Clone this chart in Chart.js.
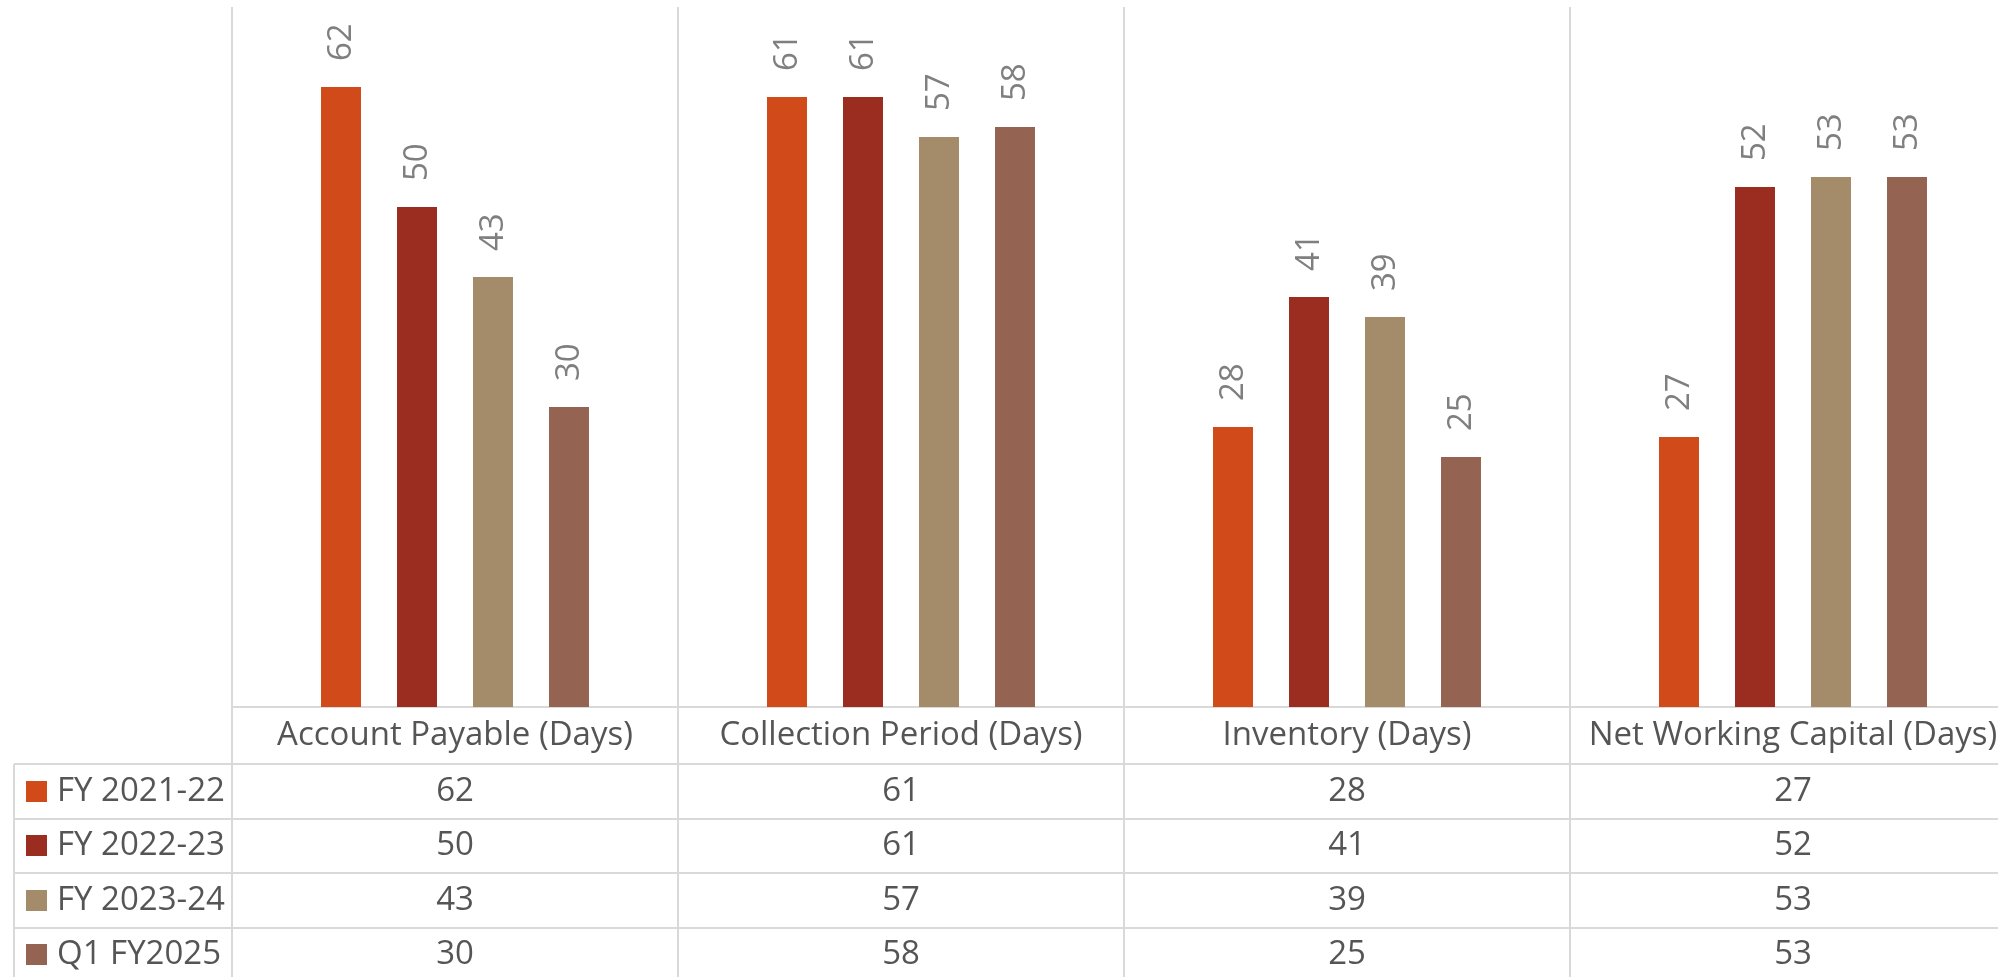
<!DOCTYPE html>
<html>
<head>
<meta charset="utf-8">
<title>Working capital days</title>
<script src="https://cdn.jsdelivr.net/npm/chart.js@4"></script>
<style>
  html, body { margin: 0; padding: 0; background: #fff; overflow: hidden; }
  #wrap { width: 2016px; height: 977px; }
</style>
</head>
<body>
<div id="wrap"><canvas id="myChart" width="2016" height="977"></canvas></div>
<script>
const categories = [
  "Account Payable (Days)",
  "Collection Period (Days)",
  "Inventory (Days)",
  "Net Working Capital (Days)",
];
const seriesNames = ["FY 2021-22", "FY 2022-23", "FY 2023-24", "Q1 FY2025"];
const fy2122 = [62, 61, 28, 27];
const fy2223 = [50, 61, 41, 52];
const fy2324 = [43, 57, 39, 53];
const q1fy25 = [30, 58, 25, 53];
const seriesColors = ["#D14A19", "#9A2C20", "#A48C6A", "#956352"];

const gridColor = "#d9d9d9";
const tableFont = "33px 'Open Sans'";
const tableText = "#555555";
const headerRow = 57;
const rowHeight = 54.5;

// grid lines, data table with legend keys, rotated value labels
const tablePlugin = {
  id: "dataTable",
  beforeDatasetsDraw(chart) {
    const ctx = chart.ctx;
    const area = chart.chartArea;
    const xs = chart.scales.x;
    const colW = (xs.right - xs.left) / categories.length;
    const tableLeft = 14;
    const bottom = chart.height;
    ctx.save();
    ctx.strokeStyle = gridColor;
    ctx.lineWidth = 2;
    ctx.beginPath();
    for (let i = 0; i <= categories.length; i++) {
      const x = Math.round(xs.left + i * colW);
      ctx.moveTo(x, area.top);
      ctx.lineTo(x, bottom);
    }
    ctx.moveTo(xs.left, area.bottom);
    ctx.lineTo(chart.width, area.bottom);
    for (let r = 0; r < seriesNames.length; r++) {
      const y = Math.round(area.bottom + headerRow + r * rowHeight);
      ctx.moveTo(tableLeft, y);
      ctx.lineTo(chart.width, y);
    }
    ctx.moveTo(tableLeft, area.bottom + headerRow);
    ctx.lineTo(tableLeft, bottom);
    ctx.stroke();
    ctx.restore();
  },
  afterDraw(chart) {
    const ctx = chart.ctx;
    const area = chart.chartArea;
    const xs = chart.scales.x;
    ctx.save();
    ctx.font = tableFont;
    ctx.fillStyle = tableText;
    ctx.textBaseline = "middle";
    ctx.textAlign = "center";
    categories.forEach((c, i) => {
      ctx.fillText(c, xs.getPixelForValue(i), area.bottom + headerRow / 2);
    });
    chart.data.datasets.forEach((ds, r) => {
      const yMid = area.bottom + headerRow + r * rowHeight + rowHeight / 2;
      ctx.fillStyle = ds.backgroundColor;
      ctx.fillRect(26, Math.round(yMid - 10.5), 21, 21);
      ctx.fillStyle = tableText;
      ctx.textAlign = "left";
      ctx.fillText(ds.label, 57, yMid);
      ctx.textAlign = "center";
      ds.data.forEach((v, i) => {
        ctx.fillText(String(v), xs.getPixelForValue(i), yMid);
      });
    });

    // value labels above the bars
    ctx.font = "33px 'Open Sans'";
    ctx.fillStyle = "#7f7f7f";
    ctx.textAlign = "left";
    ctx.textBaseline = "middle";
    chart.data.datasets.forEach((ds, d) => {
      chart.getDatasetMeta(d).data.forEach((bar, i) => {
        ctx.save();
        ctx.translate(bar.x, bar.y - 26);
        ctx.rotate(-Math.PI / 2);
        ctx.fillText(String(ds.data[i]), 0, 1);
        ctx.restore();
      });
    });
    ctx.restore();
  },
};

const seriesData = [fy2122, fy2223, fy2324, q1fy25];

new Chart(document.getElementById("myChart"), {
  type: "bar",
  data: {
    labels: categories,
    datasets: seriesNames.map((name, k) => ({
      label: name,
      data: seriesData[k],
      backgroundColor: seriesColors[k],
      categoryPercentage: 0.6816,
      barPercentage: 0.526,
    })),
  },
  options: {
    responsive: false,
    animation: false,
    layout: { padding: { left: 232, top: 7, right: 0, bottom: 270 } },
    plugins: { legend: { display: false }, tooltip: { enabled: false } },
    scales: {
      x: { display: false },
      y: { display: false, min: 0, max: 70 },
    },
  },
  plugins: [tablePlugin],
});
</script>
</body>
</html>
